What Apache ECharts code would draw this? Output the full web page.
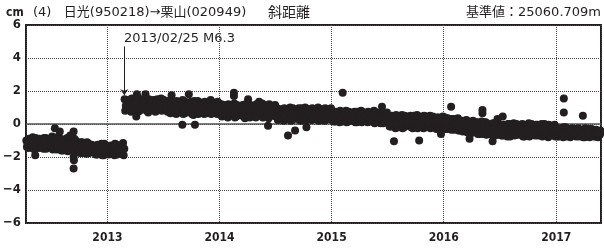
<!DOCTYPE html>
<html>
<head>
<meta charset="utf-8">
<style>
  html, body { margin: 0; padding: 0; background: #fff; }
  #chart { width: 604px; height: 248px; }
</style>
<script src="https://cdn.jsdelivr.net/npm/echarts@6/dist/echarts.min.js"></script>
</head>
<body>
<div id="chart"></div>
<script>
// weekly samples, before and after the 2013/02/25 quake (cm)
// three interleaved runs a couple of days apart, so the band reads as one solid cloud
const preStarts = ['2012-04-12', '2012-04-14', '2012-04-16']
const postStarts = ['2013-02-26', '2013-02-28', '2013-03-02']
const stepDays = 7

const preValues = [
  -1.0, -1.45, -1.2, -0.8, -1.55, -1.1, -0.9, -1.35,
  -1.5, -0.85, -1.2, -1.4, -0.75, -1.05, -1.55, -1.25,
  -0.9, -1.6, -1.3, -0.85, -1.5, -1.15, -1.65, -1.0,
  -1.25, -1.75, -1.1, -1.5, -1.8, -1.2, -1.6, -1.35,
  -1.3, -1.85, -1.5, -1.2, -1.9, -1.65, -1.35, -1.8,
  -1.45, -1.9, -1.25, -1.7, -1.5, -1.15
]
const preAlt = [
  -1.4, -0.9, -1.15, -1.5, -0.85, -1.3, -1.45, -0.95,
  -0.85, -1.5, -1.1, -0.9, -1.55, -1.3, -0.8, -1.1,
  -1.6, -0.95, -1.2, -1.65, -1.0, -1.4, -0.9, -1.55,
  -1.7, -1.1, -1.75, -1.2, -1.1, -1.75, -1.25, -1.6,
  -1.85, -1.25, -1.65, -1.9, -1.2, -1.4, -1.85, -1.3,
  -1.8, -1.2, -1.85, -1.3, -1.75, -1.9
]
const preFill = [
  -1.2, -1.1, -1.3, -1.15, -1.25, -1.05, -1.2, -1.3,
  -1.1, -1.25, -1.15, -1.3, -1.05, -1.2, -1.35, -1.15,
  -1.3, -1.2, -1.4, -1.25, -1.35, -1.2, -1.45, -1.3,
  -1.5, -1.35, -1.55, -1.4, -1.5, -1.6, -1.45, -1.55,
  -1.6, -1.45, -1.65, -1.55, -1.5, -1.7, -1.55, -1.6,
  -1.65, -1.5, -1.6, -1.55, -1.45, -1.5
]

const postValues = [
  // 2013
  1.5, 0.85, 1.2, 0.75, 1.4, 1.05, 1.6, 0.8, 1.3, 0.95, 1.55, 0.7, 1.25, 1.0, 1.45, 0.8, 1.15, 1.55, 0.9, 1.35, 0.75,
  1.4, 0.7, 1.1, 0.6, 1.3, 0.9, 1.45, 0.65, 1.2, 0.85, 1.35, 0.55, 1.05, 1.4, 0.75, 1.2, 0.6, 1.3, 0.95, 1.45, 0.7, 1.1, 0.6, 1.25,
  // 2014
  1.2, 0.5, 0.9, 0.4, 1.1, 0.7, 1.25, 0.45, 1.0, 0.6, 1.15, 0.35, 0.85, 1.2, 0.55, 1.0, 0.4, 1.1, 0.75, 1.25, 0.5, 0.9, 0.35, 1.05, 0.65, 1.15,
  0.95, 0.3, 0.7, 0.2, 0.9, 0.5, 1.0, 0.25, 0.8, 0.45, 0.95, 0.2, 0.65, 1.0, 0.35, 0.8, 0.25, 0.9, 0.55, 1.0, 0.3, 0.7, 0.2, 0.85, 0.45, 0.95,
  // 2015
  0.75, 0.15, 0.55, 0.1, 0.7, 0.35, 0.8, 0.15, 0.6, 0.3, 0.75, 0.1, 0.5, 0.8, 0.2, 0.65, 0.1, 0.7, 0.4, 0.8, 0.15, 0.55, 0.05, 0.65, 0.3, 0.7,
  0.5, -0.15, 0.25, -0.25, 0.45, 0.05, 0.55, -0.2, 0.35, 0.0, 0.5, -0.25, 0.2, 0.55, -0.1, 0.35, -0.25, 0.45, 0.1, 0.5, -0.15, 0.25, -0.3, 0.4, 0.0, 0.45,
  // 2016
  0.4, -0.3, 0.15, -0.35, 0.3, -0.1, 0.35, -0.4, 0.2, -0.2, 0.25, -0.5, 0.0, 0.2, -0.45, 0.1, -0.6, 0.15, -0.25, 0.1, -0.55, -0.05, -0.65, 0.05, -0.35, 0.0,
  -0.05, -0.7, -0.25, -0.75, 0.0, -0.45, 0.05, -0.65, -0.15, -0.55, 0.0, -0.75, -0.3, 0.05, -0.6, -0.2, -0.7, -0.05, -0.45, 0.0, -0.65, -0.25, -0.8, -0.1, -0.5, -0.05,
  // 2017
  -0.25, -0.75, -0.4, -0.8, -0.2, -0.6, -0.3, -0.7, -0.45, -0.75, -0.25, -0.65, -0.35, -0.8, -0.5, -0.3, -0.7, -0.4, -0.75, -0.55, -0.65
]
const postAlt = [
  // 2013
  0.8, 1.45, 0.95, 1.55, 0.85, 1.35, 0.75, 1.5, 0.9, 1.4, 0.8, 1.5, 0.95, 1.45, 0.75, 1.5, 0.85, 0.8, 1.45, 0.9, 1.4,
  0.65, 1.3, 0.8, 1.4, 0.7, 1.25, 0.6, 1.35, 0.75, 1.3, 0.6, 1.4, 0.85, 0.6, 1.3, 0.7, 1.35, 0.65, 1.25, 0.6, 1.3, 0.75, 1.35, 0.65,
  // 2014
  0.45, 1.15, 0.6, 1.2, 0.5, 1.05, 0.4, 1.15, 0.55, 1.1, 0.45, 1.2, 0.65, 0.4, 1.1, 0.55, 1.2, 0.5, 1.05, 0.4, 1.15, 0.6, 1.2, 0.5, 1.1, 0.45,
  0.25, 0.9, 0.4, 0.95, 0.3, 0.85, 0.2, 0.95, 0.35, 0.85, 0.25, 0.95, 0.45, 0.2, 0.9, 0.35, 0.95, 0.3, 0.85, 0.2, 0.9, 0.4, 0.95, 0.3, 0.85, 0.25,
  // 2015
  0.15, 0.75, 0.25, 0.8, 0.15, 0.7, 0.1, 0.75, 0.2, 0.7, 0.1, 0.75, 0.3, 0.1, 0.7, 0.2, 0.75, 0.15, 0.65, 0.05, 0.7, 0.2, 0.65, 0.05, 0.6, 0.1,
  -0.15, 0.5, 0.0, 0.55, -0.2, 0.4, -0.25, 0.5, -0.1, 0.45, -0.2, 0.5, 0.0, -0.25, 0.45, -0.1, 0.5, -0.2, 0.4, -0.25, 0.45, -0.05, 0.4, -0.25, 0.35, -0.3,
  // 2016
  -0.3, 0.35, -0.2, 0.3, -0.35, 0.2, -0.4, 0.15, -0.45, 0.2, -0.5, 0.1, -0.55, -0.5, 0.1, -0.6, 0.05, -0.6, 0.1, -0.65, 0.0, -0.6, 0.05, -0.7, 0.0, -0.65,
  -0.7, -0.05, -0.6, 0.0, -0.75, -0.1, -0.7, 0.0, -0.65, -0.05, -0.75, -0.1, -0.6, -0.75, 0.0, -0.65, -0.05, -0.7, -0.1, -0.75, 0.0, -0.6, -0.05, -0.7, -0.1, -0.75,
  // 2017
  -0.75, -0.25, -0.7, -0.2, -0.75, -0.3, -0.8, -0.25, -0.7, -0.3, -0.75, -0.35, -0.8, -0.25, -0.7, -0.8, -0.3, -0.75, -0.35, -0.8, -0.4
]
const postFill = [
  // 2013
  1.1, 1.25, 1.05, 1.2, 1.15, 1.3, 1.0, 1.2, 1.1, 1.25, 1.05, 1.15, 1.2, 1.1, 1.3, 1.05, 1.2, 1.1, 1.25, 1.0, 1.15,
  1.05, 0.95, 1.1, 0.9, 1.0, 1.15, 0.95, 1.05, 0.9, 1.1, 1.0, 0.95, 1.1, 0.9, 1.05, 1.0, 0.95, 1.1, 0.9, 1.0, 1.05, 0.9, 1.0, 0.95,
  // 2014
  0.85, 0.75, 0.9, 0.7, 0.8, 0.95, 0.75, 0.85, 0.7, 0.9, 0.8, 0.75, 0.9, 0.7, 0.8, 0.85, 0.75, 0.9, 0.7, 0.8, 0.85, 0.7, 0.8, 0.75, 0.85, 0.7,
  0.65, 0.55, 0.7, 0.5, 0.6, 0.75, 0.55, 0.65, 0.5, 0.7, 0.6, 0.55, 0.7, 0.5, 0.6, 0.65, 0.55, 0.7, 0.5, 0.6, 0.65, 0.5, 0.6, 0.55, 0.6, 0.5,
  // 2015
  0.5, 0.4, 0.55, 0.35, 0.45, 0.55, 0.4, 0.5, 0.35, 0.5, 0.45, 0.4, 0.5, 0.35, 0.45, 0.5, 0.4, 0.5, 0.35, 0.45, 0.4, 0.35, 0.45, 0.3, 0.4, 0.3,
  0.2, 0.1, 0.25, 0.05, 0.15, 0.25, 0.1, 0.2, 0.05, 0.2, 0.15, 0.1, 0.2, 0.05, 0.15, 0.2, 0.1, 0.2, 0.05, 0.15, 0.1, 0.05, 0.15, 0.0, 0.1, 0.05,
  // 2016
  0.05, -0.05, 0.1, -0.1, 0.0, -0.05, -0.15, -0.05, -0.2, -0.1, -0.15, -0.25, -0.15, -0.2, -0.3, -0.2, -0.25, -0.35, -0.2, -0.3, -0.25, -0.35, -0.3, -0.2, -0.35, -0.3,
  -0.3, -0.4, -0.25, -0.45, -0.35, -0.3, -0.4, -0.35, -0.25, -0.4, -0.3, -0.45, -0.35, -0.3, -0.4, -0.25, -0.4, -0.35, -0.3, -0.45, -0.35, -0.4, -0.3, -0.45, -0.35, -0.4,
  // 2017
  -0.45, -0.55, -0.5, -0.4, -0.55, -0.5, -0.45, -0.6, -0.5, -0.55, -0.45, -0.5, -0.6, -0.5, -0.55, -0.45, -0.6, -0.5, -0.55, -0.6, -0.5
]

// scattered points away from the main band
const outlierDates = [
  '2012-05-11', '2012-07-14', '2012-07-30', '2012-09-02', '2012-09-13', '2012-09-13', '2012-09-14', '2012-09-13',
  '2013-04-05', '2013-04-07', '2013-05-05', '2013-07-29', '2013-09-02', '2013-09-23', '2013-10-13',
  '2014-02-17', '2014-02-17', '2014-04-04', '2014-05-10', '2014-06-08', '2014-08-12', '2014-09-04', '2014-10-11',
  '2015-02-06', '2015-06-14', '2015-07-23', '2015-10-13', '2015-12-23',
  '2016-01-25', '2016-03-25', '2016-05-06', '2016-05-06', '2016-06-08', '2016-06-24', '2016-07-11',
  '2017-01-26', '2017-01-26', '2017-03-29'
]
const outlierValues = [
  -1.9, -0.25, -0.45, -0.7, -0.45, -2.0, -2.2, -2.7,
  0.45, 1.8, 1.8, 1.75, -0.05, 1.8, -0.05,
  1.9, 1.7, 1.5, 1.35, -0.1, -0.7, -0.4, -0.2,
  1.9, 1.05, -1.05, -1.0, -0.6,
  1.05, -0.9, 0.85, 0.65, -1.05, 0.3, 0.45,
  1.55, 0.7, 0.5
]

const xStart = '2012-04-11'
const xEnd = '2017-05-27'
const quakeDate = '2013-02-25'
const quakeLabel = '2013/02/25 M6.3'
const yTicks = [-6, -4, -2, 0, 2, 4, 6]

const DAY = 86400000
function weekly(start, values) {
  const t0 = +new Date(start)
  return values.map((v, i) => [t0 + i * stepDays * DAY, v])
}
const points = weekly(preStarts[0], preValues)
  .concat(weekly(preStarts[1], preAlt))
  .concat(weekly(preStarts[2], preFill))
  .concat(weekly(postStarts[0], postValues))
  .concat(weekly(postStarts[1], postAlt))
  .concat(weekly(postStarts[2], postFill))
  .concat(outlierDates.map((d, i) => [+new Date(d), outlierValues[i]]))

const narrow = "'Liberation Sans Narrow', 'DejaVu Sans Condensed', 'Roboto Condensed', 'Liberation Sans', sans-serif"
const titleFont = "'DejaVu Sans', 'Noto Sans CJK JP', sans-serif"
const ink = '#231f20'

const chart = echarts.init(document.getElementById('chart'))
chart.setOption({
  animation: false,
  grid: {
    left: 26,
    right: 3,
    top: 25,
    bottom: 25,
    show: true,
    borderColor: ink,
    borderWidth: 2
  },
  xAxis: {
    type: 'time',
    min: +new Date(xStart),
    max: +new Date(xEnd),
    minInterval: 365 * DAY,
    axisLine: { show: false },
    axisTick: { show: false },
    axisLabel: {
      color: ink,
      fontFamily: narrow,
      fontWeight: 'bold',
      fontSize: 12,
      margin: 9,
      showMinLabel: false,
      showMaxLabel: false,
      formatter: v => String(new Date(v).getFullYear())
    },
    splitLine: {
      show: true,
      lineStyle: { color: '#444', type: 'dotted', width: 1 }
    }
  },
  yAxis: {
    type: 'value',
    min: yTicks[0],
    max: yTicks[yTicks.length - 1],
    interval: 2,
    axisLine: { show: false },
    axisTick: { show: false },
    axisLabel: {
      color: ink,
      fontFamily: narrow,
      fontWeight: 'bold',
      fontSize: 13,
      margin: 5,
      formatter: v => String(v).replace('-', '\u2212')
    },
    splitLine: {
      lineStyle: { color: '#444', type: 'dotted', width: 1 }
    }
  },
  series: [
    {
      // zero line, kept under the dots
      type: 'line',
      data: [[+new Date(xStart), 0], [+new Date(xEnd), 0]],
      symbol: 'none',
      silent: true,
      z: 1,
      lineStyle: { color: '#555', width: 1.3 }
    },
    {
      type: 'scatter',
      data: points,
      symbolSize: 8,
      silent: true,
      z: 3,
      itemStyle: { color: ink, opacity: 1 },
      markLine: {
        silent: true,
        symbol: ['none', 'arrow'],
        symbolSize: 6,
        label: { show: false },
        lineStyle: { color: ink, type: 'solid', width: 1 },
        data: [
          [
            { coord: [+new Date(quakeDate), 4.7] },
            { coord: [+new Date(quakeDate), 1.75] }
          ]
        ]
      }
    }
  ],
  graphic: [
    { type: 'text', left: 6, top: 7, style: { text: 'cm', font: 'bold 12px ' + narrow, fill: ink } },
    { type: 'text', left: 33, top: 6, style: { text: '(4)   日光(950218)→栗山(020949)', font: '13px ' + titleFont, fill: ink } },
    { type: 'text', left: 268, top: 6, style: { text: '斜距離', font: '14px ' + titleFont, fill: ink } },
    { type: 'text', right: 3, top: 6, style: { text: '基準値：25060.709m', font: '13px ' + titleFont, fill: ink } },
    { type: 'text', left: 124, top: 32, style: { text: quakeLabel, font: '13px ' + titleFont, fill: ink } }
  ]
})
</script>
</body>
</html>
